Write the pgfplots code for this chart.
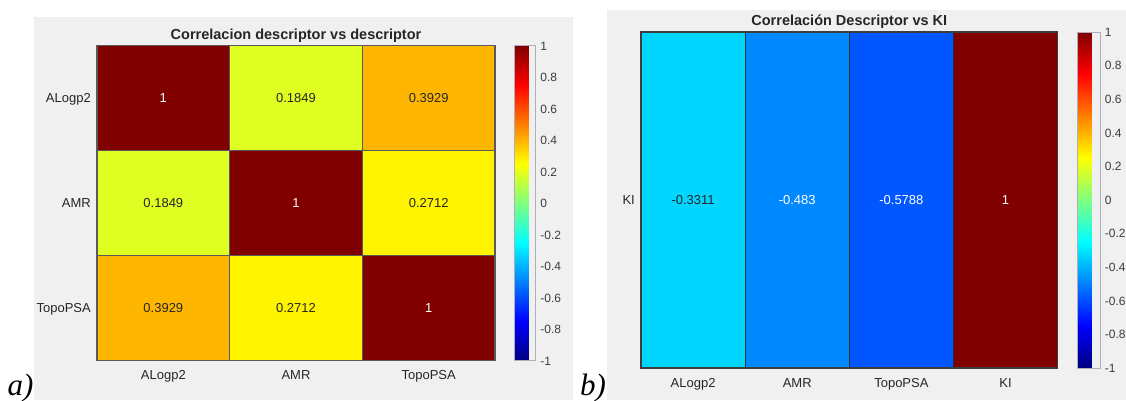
\documentclass[border=0pt]{standalone}
\usepackage{pgfplots}
\pgfplotsset{compat=1.18}
\usepackage{pgfplotstable}
\usepackage{fontspec}
\setmainfont{Liberation Sans}
\newfontfamily\panelfont{Liberation Serif}

\definecolor{panelbg}{RGB}{240,240,240}
\definecolor{labeltext}{RGB}{38,38,38}
\definecolor{cbtext}{RGB}{60,60,60}
\definecolor{gridA}{RGB}{90,90,90}
\definecolor{gridB}{RGB}{45,45,45}
\definecolor{cbedge}{RGB}{175,175,185}

% descriptor vs descriptor: cell centres, value, share of white in the value text
\pgfplotstableread{
x y c w
0 0 1      100
1 0 0.1849 0
2 0 0.3929 0
0 1 0.1849 0
1 1 1      100
2 1 0.2712 0
0 2 0.3929 0
1 2 0.2712 0
2 2 1      100
}\descdesc

% descriptor vs KI: one row of cells (corners of each rectangle)
\pgfplotstableread{
x y c
-0.5 -0.5 -0.3311
 0.5 -0.5 -0.3311
 0.5  0.5 -0.3311
-0.5  0.5 -0.3311
 0.5 -0.5 -0.483
 1.5 -0.5 -0.483
 1.5  0.5 -0.483
 0.5  0.5 -0.483
 1.5 -0.5 -0.5788
 2.5 -0.5 -0.5788
 2.5  0.5 -0.5788
 1.5  0.5 -0.5788
 2.5 -0.5 1
 3.5 -0.5 1
 3.5  0.5 1
 2.5  0.5 1
}\kicells

% descriptor vs KI: cell centres for the value labels
\pgfplotstableread{
x y c w
0 0 -0.3311 0
1 0 -0.483  100
2 0 -0.5788 100
3 0 1       100
}\kilabels

\pgfplotsset{
  heatbase/.style={
    scale only axis,
    enlargelimits=false,
    colormap/jet,
    point meta min=-1, point meta max=1,
    major tick length=0pt, minor tick length=0pt,
    xminorgrids=true, yminorgrids=true,
    axis on top,
    ticklabel style={font=\fontsize{13}{15}\selectfont, text=labeltext, inner sep=0pt},
    xticklabel style={anchor=base, yshift=-18.3pt},
    yticklabel style={anchor=base east, xshift=-6pt, yshift=-4.65pt},
    every axis title/.style={at={(0.5,1)}, anchor=base, yshift=6.5pt,
      font=\bfseries\fontsize{14.5}{17}\selectfont, text=labeltext},
    colorbar,
  },
  cellvalues/.style={
    draw=none, mark=none,
    point meta=explicit,
    visualization depends on={\thisrow{w} \as \wpct},
    nodes near coords={\pgfmathprintnumber[fixed, precision=4, assume math mode=true]{\pgfplotspointmeta}},
    every node near coord/.append style={anchor=center, text=white!\wpct!labeltext,
      font=\fontsize{13}{15}\selectfont},
  },
  cbstyle/.style 2 args={
    colorbar style={
      at={(parent axis.north east)}, anchor=north west,
      xshift=#1, scale only axis, width=#2,
      ytick={-1,-0.8,-0.6,-0.4,-0.2,0,0.2,0.4,0.6,0.8,1},
      major tick length=0pt,
      axis line style={cbedge, line width=0.8pt},
      /pgf/number format/fixed,
      /pgf/number format/precision=1,
      /pgf/number format/assume math mode=true,
      yticklabel style={font=\fontsize{12}{14}\selectfont, text=cbtext,
        anchor=base west, inner sep=0pt, xshift=4.7pt, yshift=-4.3pt},
    },
  },
}

\begin{document}
\begin{tikzpicture}
\path[use as bounding box] (0pt,0pt) rectangle (1126pt,-400pt);
\fill[panelbg] (34pt,-17pt) rectangle (573pt,-400pt);
\fill[panelbg] (607pt,-10pt) rectangle (1126pt,-400pt);

% a) descriptor vs descriptor
\begin{axis}[heatbase,
  at={(97pt,-45.7pt)}, anchor=north west,
  width=398pt, height=315pt,
  xmin=-0.5, xmax=2.5, ymin=-0.5, ymax=2.5,
  y dir=reverse,
  xtick={0,1,2}, xticklabels={ALogp2,AMR,TopoPSA},
  ytick={0,1,2}, yticklabels={ALogp2,AMR,TopoPSA},
  minor xtick={0.5,1.5}, minor ytick={0.5,1.5},
  minor grid style={gridA, line width=1.3pt},
  axis line style={gridA, line width=1.3pt},
  title={Correlacion descriptor vs descriptor},
  cbstyle={11.2pt}{20.8pt},
  colorbar style={height=315pt},
]
\addplot[matrix plot*, mesh/cols=3, point meta=explicit] table[meta=c] {\descdesc};
\addplot[cellvalues] table[meta=c] {\descdesc};
\end{axis}

% b) descriptor vs KI
\begin{axis}[heatbase,
  at={(641pt,-32pt)}, anchor=north west,
  width=416.6pt, height=336pt,
  xmin=-0.5, xmax=3.5, ymin=-0.5, ymax=0.5,
  xtick={0,1,2,3}, xticklabels={ALogp2,AMR,TopoPSA,KI},
  ytick={0}, yticklabels={KI},
  minor xtick={0.5,1.5,2.5}, minor ytick={},
  minor grid style={gridB, line width=1pt},
  axis line style={gridB!80!gray, line width=1.2pt},
  xticklabel style={yshift=-0.7pt},
  title={Correlación Descriptor vs KI},
  cbstyle={11.4pt}{22.5pt},
  colorbar style={height=336pt},
]
\addplot[patch, patch type=rectangle, shader=flat corner, point meta=explicit] table[meta=c] {\kicells};
\addplot[cellvalues] table[meta=c] {\kilabels};
\end{axis}

\node[anchor=base west, inner sep=0pt, font=\panelfont\itshape\fontsize{31}{34}\selectfont] at (7.5pt,-395pt) {a)};
\node[anchor=base west, inner sep=0pt, font=\panelfont\itshape\fontsize{31}{34}\selectfont] at (580pt,-395pt) {b)};
\end{tikzpicture}
\end{document}
